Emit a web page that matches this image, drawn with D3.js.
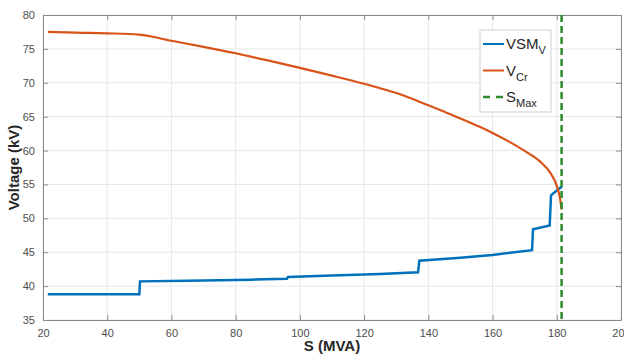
<!DOCTYPE html>
<html><head><meta charset="utf-8">
<script src="https://cdn.jsdelivr.net/npm/d3@7"></script>
<style>body{margin:0;background:#fff}svg{display:block}text{font-family:Arial,"Liberation Sans",sans-serif}</style>
</head><body><svg id="c" width="624" height="356"></svg>
<script>
const xTicks = [20,40,60,80,100,120,140,160,180,200];
const yTicks = [35,40,45,50,55,60,65,70,75,80];
const vsmS = [21.5,50,50.2,65,85,96,96.3,110,125,136.8,137.2,150,160,172.3,172.6,177.8,178.2,180,181.6];
const vsmV = [38.8,38.8,40.7,40.8,40.95,41.1,41.35,41.55,41.8,42.05,43.75,44.2,44.6,45.3,48.4,48.95,53.4,54.1,54.7];
const vcrS = [21.5,30,40,50,60,70,80,90,100,110,120,125,131,137,140,145,150,156,160,165,170,172.5,175,178,180,181,181.5];
const vcrV = [77.5,77.4,77.3,77.1,76.2,75.3,74.35,73.3,72.2,71.05,69.85,69.2,68.35,67.25,66.68,65.72,64.74,63.5,62.6,61.35,59.95,59.2,58.3,56.7,54.8,53.0,51.3];
const sMax = 181.5;
const legendNames = [["VSM","V"],["V","Cr"],["S","Max"]];
const colors = ["#0072BD","#D95319","#2e8b2e"];

const svg = d3.select("#c");
const L=43,R=621,T=15,B=320;
const x = d3.scaleLinear().domain([20,200]).range([L,R]);
const y = d3.scaleLinear().domain([35,80]).range([B,T]);

const g = svg.append("g");
g.selectAll(".gx").data(xTicks).enter().append("line").attr("x1",d=>x(d)).attr("x2",d=>x(d)).attr("y1",T).attr("y2",B).attr("stroke","#e8e8e8");
g.selectAll(".gy").data(yTicks).enter().append("line").attr("y1",d=>y(d)).attr("y2",d=>y(d)).attr("x1",L).attr("x2",R).attr("stroke","#e8e8e8");

const axColor="#8a8a8a", txtColor="#4d4d4d";
function style(sel){sel.select(".domain").attr("stroke",axColor);sel.selectAll(".tick line").attr("stroke",axColor);sel.selectAll("text").attr("fill",txtColor).attr("font-size","11px");}
svg.append("g").attr("transform",`translate(0,${B})`).call(d3.axisBottom(x).tickValues(xTicks).tickSizeInner(-5).tickSizeOuter(0).tickPadding(9)).call(style);
svg.append("g").attr("transform",`translate(0,${T})`).call(d3.axisTop(x).tickValues(xTicks).tickSizeInner(-5).tickSizeOuter(0).tickFormat("")).call(style);
svg.append("g").attr("transform",`translate(${L},0)`).call(d3.axisLeft(y).tickValues(yTicks).tickSizeInner(-5).tickSizeOuter(0).tickPadding(8)).call(style);
svg.append("g").attr("transform",`translate(${R},0)`).call(d3.axisRight(y).tickValues(yTicks).tickSizeInner(-5).tickSizeOuter(0).tickFormat("")).call(style);

const line = d3.line().x(d=>x(d[0])).y(d=>y(d[1]));
const smooth = d3.line().curve(d3.curveMonotoneX).x(d=>x(d[0])).y(d=>y(d[1]));
svg.append("path").datum(vsmS.map((s,i)=>[s,vsmV[i]])).attr("d",line).attr("fill","none").attr("stroke",colors[0]).attr("stroke-width",2.5);
svg.append("path").datum(vcrS.map((s,i)=>[s,vcrV[i]])).attr("d",smooth).attr("fill","none").attr("stroke",colors[1]).attr("stroke-width",2.2);
svg.append("line").attr("x1",x(sMax)).attr("x2",x(sMax)).attr("y1",y(80)).attr("y2",y(35)).attr("stroke",colors[2]).attr("stroke-width",2.5).attr("stroke-dasharray","7,4");

svg.append("text").attr("x",(L+R)/2).attr("y",351).attr("text-anchor","middle").attr("font-weight","bold").attr("font-size","15px").attr("fill","#262626").text("S (MVA)");
svg.append("text").attr("transform",`translate(19,${(T+B)/2}) rotate(-90)`).attr("text-anchor","middle").attr("font-weight","bold").attr("font-size","15px").attr("fill","#262626").text("Voltage (kV)");

const lg = svg.append("g");
lg.append("rect").attr("x",480).attr("y",30).attr("width",71).attr("height",82).attr("fill","#fff").attr("stroke","#cfcfcf");
legendNames.forEach((n,i)=>{
  const yy = 44 + i*26.5;
  lg.append("line").attr("x1",483).attr("x2",504).attr("y1",yy).attr("y2",yy).attr("stroke",colors[i]).attr("stroke-width",i===2?2.5:2).attr("stroke-dasharray",i===2?"7,6":null);
  const t = lg.append("text").attr("x",506).attr("y",yy+5).attr("font-size","15px").attr("fill","#262626");
  t.append("tspan").text(n[0]);
  t.append("tspan").attr("font-size","11px").attr("dy",5).text(n[1]);
});
</script></body></html>
